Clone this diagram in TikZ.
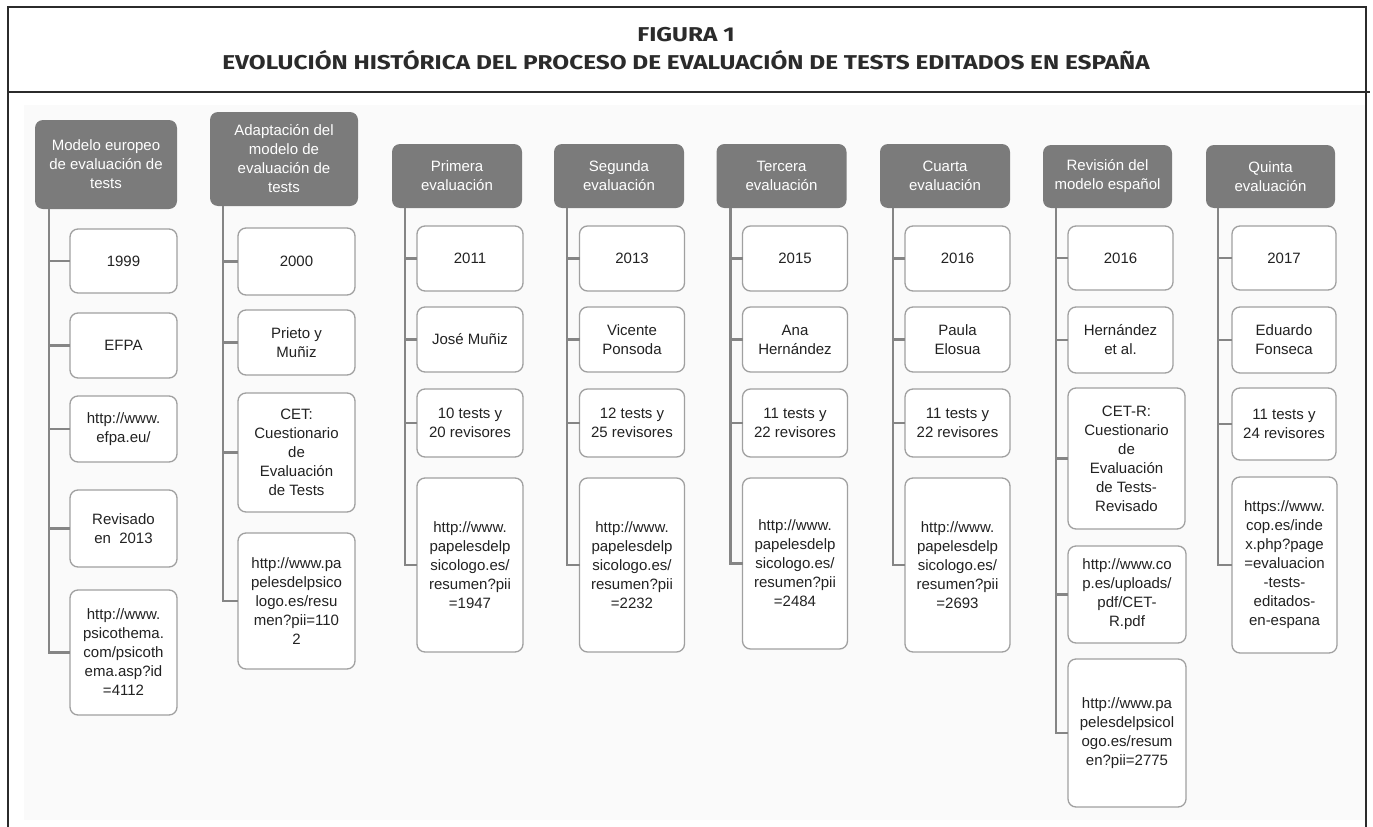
\documentclass[tikz,border=0pt]{standalone}
\usepackage{fontspec}
\setmainfont{Liberation Sans}
\newfontfamily\titlefont{Fira Sans}
\usetikzlibrary{calc}
\definecolor{hdrgray}{HTML}{7B7B7B}
\definecolor{boxline}{HTML}{A0A0A0}
\definecolor{conngray}{HTML}{858585}
\definecolor{txt}{HTML}{222222}
\definecolor{framec}{HTML}{2B2B2B}
\definecolor{panel}{HTML}{FAFAFA}
\begin{document}
\begin{tikzpicture}[x=1pt,y=-1pt,
 hbox/.style={draw=none, fill=hdrgray, rounded corners=8pt, text=white, align=center, inner sep=0pt, outer sep=0pt, font=\fontsize{15}{19}\selectfont},
 cbox/.style={draw=boxline, line width=1.3pt, fill=white, rounded corners=8pt, text=txt, align=center, inner sep=0pt, outer sep=0pt, font=\fontsize{15}{19}\selectfont},
 conn/.style={draw=conngray, line width=2.2pt},
 framel/.style={draw=framec, line width=2.5pt},
 ttl/.style={font=\titlefont\bfseries\fontsize{20}{22}\selectfont, text=framec, inner sep=0pt}]
\useasboundingbox (0,0) rectangle (1373,827);
\fill[panel] (24,105) rectangle (1365,820);
\draw[framel] (8,827) -- (8,7) -- (1366,7) -- (1366,827);
\draw[framel] (8,92) -- (1370,92);
\node[ttl] (t1) at (686,35) {\scalebox{1.22}[1]{FIGURA 1}};
\node[ttl] (t2) at (686,60) {\scalebox{1.22}[1]{EVOLUCIÓN HISTÓRICA DEL PROCESO DE EVALUACIÓN DE TESTS EDITADOS EN ESPAÑA}};

% ---------- Column 1
\node[hbox, minimum width=142pt, minimum height=89pt] (h1) at (106,164.5) {Modelo europeo\\de evaluación de\\tests};
\node[cbox, minimum width=107pt, minimum height=64pt] (c1a) at (123.5,261) {1999};
\node[cbox, minimum width=107pt, minimum height=65pt] (c1b) at (123.5,345.5) {EFPA};
\node[cbox, minimum width=107pt, minimum height=66pt] (c1c) at (123.5,429) {http://www.\\efpa.eu/};
\node[cbox, minimum width=107pt, minimum height=77pt] (c1d) at (123.5,528.5) {Revisado\\en\ \ 2013};
\node[cbox, minimum width=107pt, minimum height=125pt] (c1e) at (123.5,652.5) {http://www.\\psicothema.\\com/psicoth\\ema.asp?id\\=4112};
\foreach \c in {c1a,c1b,c1c,c1d,c1e} \draw[conn] (h1.south west) ++(14,0) |- (\c.west);

% ---------- Column 2
\node[hbox, minimum width=148pt, minimum height=94pt] (h2) at (284,159) {Adaptación del\\modelo de\\evaluación de\\tests};
\node[cbox, minimum width=117pt, minimum height=67pt] (c2a) at (296.5,261.5) {2000};
\node[cbox, minimum width=117pt, minimum height=65pt] (c2b) at (296.5,342.5) {Prieto y\\Muñiz};
\node[cbox, minimum width=117pt, minimum height=119pt] (c2c) at (296.5,452.5) {CET:\\Cuestionario\\de\\Evaluación\\de Tests};
\node[cbox, minimum width=117pt, minimum height=136pt] (c2d) at (296.5,601) {http://www.pa\\pelesdelpsico\\logo.es/resu\\men?pii=110\\2};
\foreach \c in {c2a,c2b,c2c,c2d} \draw[conn] (h2.south west) ++(13,0) |- (\c.west);

% ---------- Column 3
\node[hbox, minimum width=130pt, minimum height=64pt] (h3) at (457,176) {Primera\\evaluación};
\node[cbox, minimum width=106pt, minimum height=65pt] (c3a) at (470,258.5) {2011};
\node[cbox, minimum width=106pt, minimum height=65pt] (c3b) at (470,339.5) {José Muñiz};
\node[cbox, minimum width=106pt, minimum height=68pt] (c3c) at (470,423) {10 tests y\\20 revisores};
\node[cbox, minimum width=106pt, minimum height=174pt] (c3d) at (470,565) {http://www.\\papelesdelp\\sicologo.es/\\resumen?pii\\=1947};
\foreach \c in {c3a,c3b,c3c,c3d} \draw[conn] (h3.south west) ++(13,0) |- (\c.west);

% ---------- Column 4
\node[hbox, minimum width=130pt, minimum height=64pt] (h4) at (619,176) {Segunda\\evaluación};
\node[cbox, minimum width=105pt, minimum height=65pt] (c4a) at (632,258.5) {2013};
\node[cbox, minimum width=105pt, minimum height=65pt] (c4b) at (632,339.5) {Vicente\\Ponsoda};
\node[cbox, minimum width=105pt, minimum height=68pt] (c4c) at (632,423) {12 tests y\\25 revisores};
\node[cbox, minimum width=105pt, minimum height=174pt] (c4d) at (632,565) {http://www.\\papelesdelp\\sicologo.es/\\resumen?pii\\=2232};
\foreach \c in {c4a,c4b,c4c,c4d} \draw[conn] (h4.south west) ++(13,0) |- (\c.west);

% ---------- Column 5
\node[hbox, minimum width=130pt, minimum height=64pt] (h5) at (781.5,176) {Tercera\\evaluación};
\node[cbox, minimum width=105pt, minimum height=65pt] (c5a) at (795,258.5) {2015};
\node[cbox, minimum width=105pt, minimum height=65pt] (c5b) at (795,339.5) {Ana\\Hernández};
\node[cbox, minimum width=105pt, minimum height=68pt] (c5c) at (795,423) {11 tests y\\22 revisores};
\node[cbox, minimum width=105pt, minimum height=171pt] (c5d) at (795,563.5) {http://www.\\papelesdelp\\sicologo.es/\\resumen?pii\\=2484};
\foreach \c in {c5a,c5b,c5c,c5d} \draw[conn] (h5.south west) ++(14,0) |- (\c.west);

% ---------- Column 6
\node[hbox, minimum width=130pt, minimum height=64pt] (h6) at (945,176) {Cuarta\\evaluación};
\node[cbox, minimum width=105pt, minimum height=65pt] (c6a) at (957.5,258.5) {2016};
\node[cbox, minimum width=105pt, minimum height=65pt] (c6b) at (957.5,339.5) {Paula\\Elosua};
\node[cbox, minimum width=105pt, minimum height=68pt] (c6c) at (957.5,423) {11 tests y\\22 revisores};
\node[cbox, minimum width=105pt, minimum height=174pt] (c6d) at (957.5,565) {http://www.\\papelesdelp\\sicologo.es/\\resumen?pii\\=2693};
\foreach \c in {c6a,c6b,c6c,c6d} \draw[conn] (h6.south west) ++(13,0) |- (\c.west);

% ---------- Column 7
\node[hbox, minimum width=129pt, minimum height=63pt] (h7) at (1107.5,176.5) {Revisión del\\modelo español};
\node[cbox, minimum width=105pt, minimum height=64pt] (c7a) at (1120.5,258) {2016};
\node[cbox, minimum width=105pt, minimum height=66pt] (c7b) at (1120.5,340) {Hernández\\et al.};
\node[cbox, minimum width=117pt, minimum height=141pt] (c7c) at (1126.5,458.5) {CET-R:\\Cuestionario\\de\\Evaluación\\de Tests-\\Revisado};
\node[cbox, minimum width=118pt, minimum height=97pt] (c7d) at (1127,594.5) {http://www.co\\p.es/uploads/\\pdf/CET-\\R.pdf};
\node[cbox, minimum width=118pt, minimum height=148pt] (c7e) at (1127,733) {http://www.pa\\pelesdelpsicol\\ogo.es/resum\\en?pii=2775};
\foreach \c in {c7a,c7b,c7c,c7d,c7e} \draw[conn] (h7.south west) ++(13,0) |- (\c.west);

% ---------- Column 8
\node[hbox, minimum width=129pt, minimum height=63pt] (h8) at (1270.5,176.5) {Quinta\\evaluación};
\node[cbox, minimum width=104pt, minimum height=64pt] (c8a) at (1284,258) {2017};
\node[cbox, minimum width=104pt, minimum height=66pt] (c8b) at (1284,340) {Eduardo\\Fonseca};
\node[cbox, minimum width=104pt, minimum height=72pt] (c8c) at (1284,424) {11 tests y\\24 revisores};
\node[cbox, minimum width=105pt, minimum height=176pt] (c8d) at (1284.5,565) {https://www.\\cop.es/inde\\x.php?page\\=evaluacion\\-tests-\\editados-\\en-espana};
\foreach \c in {c8a,c8b,c8c,c8d} \draw[conn] (h8.south west) ++(12,0) |- (\c.west);
\end{tikzpicture}
\end{document}
